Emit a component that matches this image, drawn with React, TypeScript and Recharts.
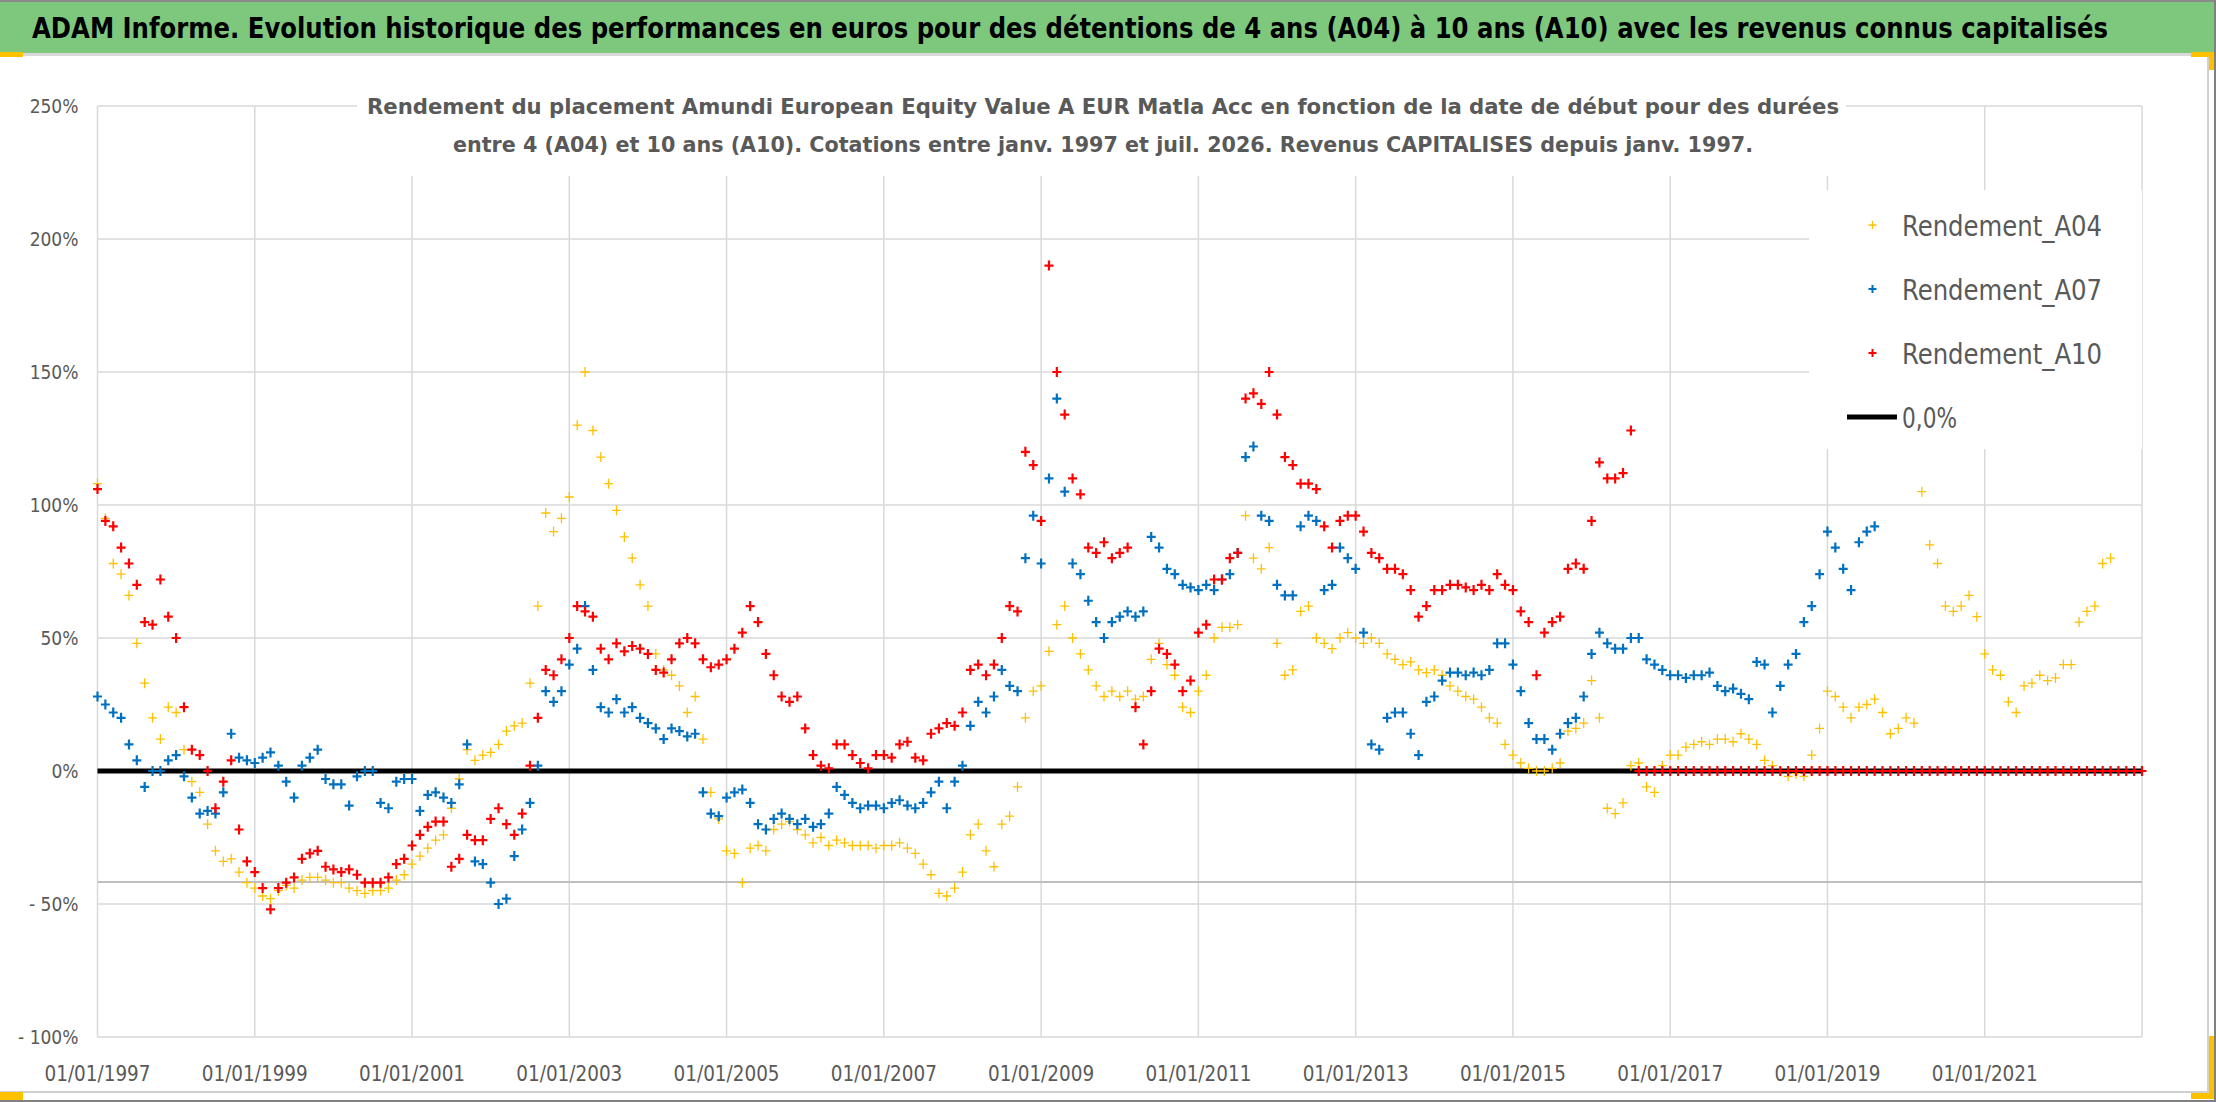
import React from 'react'
import {
  CartesianGrid,
  Legend,
  ReferenceLine,
  Scatter,
  ScatterChart,
  XAxis,
  YAxis,
} from 'recharts'

const TITLE =
  'ADAM Informe. Evolution historique des performances en euros pour des détentions de 4 ans (A04) à 10 ans (A10) avec les revenus connus capitalisés'
const SUBTITLE = [
  'Rendement du placement Amundi European Equity Value A EUR Matla Acc en fonction de la date de début pour des durées',
  'entre 4 (A04) et 10 ans (A10). Cotations entre janv. 1997 et juil. 2026. Revenus CAPITALISES depuis janv. 1997.',
]

const X_TICKS = [1997, 1999, 2001, 2003, 2005, 2007, 2009, 2011, 2013, 2015, 2017, 2019, 2021]
const Y_TICKS = [-100, -50, 0, 50, 100, 150, 200, 250]
// grey horizontal axis line drawn by the original a bit above -50 %
const AXIS_CROSS = -41.7

// one reading every 0.1 year, starting 01/01/1997
const FIRST_YEAR = 1997
const STEP = 0.1

// prettier-ignore
const A04 = [
  108, 95, 78, 74, 66, 48, 33, 20, 12, 24, // 1997
  22, 8, -4, -8, -20, -30, -34, -33, -38, -42, // 1998
  -44, -47, -48, -45, -43, -44, -41, -40, -40, -41, // 1999
  -42, -42, -44, -45, -46, -45, -45, -44, -41, -39, // 2000
  -35, -32, -29, -26, -24, -14, -3, 8, 4, 6, // 2001
  7, 10, 15, 17, 18, 33, 62, 97, 90, 95, // 2002
  103, 130, 150, 128, 118, 108, 98, 88, 80, 70, // 2003
  62, 44, 38, 36, 32, 22, 28, 12, -8, -18, // 2004
  -30, -31, -42, -29, -28, -30, -22, -20, -19, -22, // 2005
  -24, -27, -25, -28, -26, -27, -28, -28, -28, -29, // 2006
  -28, -28, -27, -29, -31, -35, -39, -46, -47, -44, // 2007
  -38, -24, -20, -30, -36, -20, -17, -6, 20, 30, // 2008
  32, 45, 55, 62, 50, 44, 38, 32, 28, 30, // 2009
  28, 30, 27, 28, 42, 48, 40, 36, 24, 22, // 2010
  30, 36, 50, 54, 54, 55, 96, 80, 76, 84, // 2011
  48, 36, 38, 60, 62, 50, 48, 46, 50, 52, // 2012
  50, 48, 50, 48, 44, 42, 40, 41, 38, 37, // 2013
  38, 36, 32, 30, 28, 27, 24, 20, 18, 10, // 2014
  6, 3, 1, 0, 0, 1, 3, 15, 16, 18, // 2015
  34, 20, -14, -16, -12, 2, 3, -6, -8, 2, // 2016
  6, 6, 9, 10, 11, 10, 12, 12, 11, 14, // 2017
  12, 10, 4, 2, 0, -2, -1, -2, 6, 16, // 2018
  30, 28, 24, 20, 24, 25, 27, 22, 14, 16, // 2019
  20, 18, 105, 85, 78, 62, 60, 62, 66, 58, // 2020
  44, 38, 36, 26, 22, 32, 33, 36, 34, 35, // 2021
  40, 40, 56, 60, 62, 78, 80, // 2022
]

// prettier-ignore
const A07 = [
  28, 25, 22, 20, 10, 4, -6, 0, 0, 4, // 1997
  6, -2, -10, -16, -15, -16, -8, 14, 5, 4, // 1998
  3, 5, 7, 2, -4, -10, 2, 5, 8, -3, // 1999
  -5, -5, -13, -2, 0, 0, -12, -14, -4, -3, // 2000
  -3, -15, -9, -8, -10, -12, -5, 10, -34, -35, // 2001
  -42, -50, -48, -32, -22, -12, 2, 30, 26, 30, // 2002
  40, 46, 62, 38, 24, 22, 27, 22, 24, 20, // 2003
  18, 16, 12, 16, 15, 13, 14, -8, -16, -17, // 2004
  -10, -8, -7, -12, -20, -22, -18, -16, -18, -20, // 2005
  -18, -21, -20, -16, -6, -9, -12, -14, -13, -13, // 2006
  -14, -12, -11, -13, -14, -12, -8, -4, -14, -4, // 2007
  2, 17, 26, 22, 28, 38, 32, 30, 80, 96, // 2008
  78, 110, 140, 105, 78, 74, 64, 56, 50, 56, // 2009
  58, 60, 58, 60, 88, 84, 76, 74, 70, 69, // 2010
  68, 70, 68, 72, 74, 82, 118, 122, 96, 94, // 2011
  70, 66, 66, 92, 96, 94, 68, 70, 84, 80, // 2012
  76, 52, 10, 8, 20, 22, 22, 14, 6, 26, // 2013
  28, 34, 37, 37, 36, 37, 36, 38, 48, 48, // 2014
  40, 30, 18, 12, 12, 8, 14, 18, 20, 28, // 2015
  44, 52, 48, 46, 46, 50, 50, 42, 40, 38, // 2016
  36, 36, 35, 36, 36, 37, 32, 30, 31, 29, // 2017
  27, 41, 40, 22, 32, 40, 44, 56, 62, 74, // 2018
  90, 84, 76, 68, 86, 90, 92, // 2019
]

// after mid-2016 there is no 10-year result yet: the sheet shows 0
// prettier-ignore
const A10 = [
  106, 94, 92, 84, 78, 70, 56, 55, 72, 58, // 1997
  50, 24, 8, 6, 0, -14, -4, 4, -22, -34, // 1998
  -38, -44, -52, -44, -42, -40, -33, -31, -30, -36, // 1999
  -37, -38, -37, -39, -42, -42, -42, -40, -35, -33, // 2000
  -28, -24, -21, -19, -19, -36, -33, -24, -26, -26, // 2001
  -18, -14, -20, -24, -16, 2, 20, 38, 36, 42, // 2002
  50, 62, 60, 58, 46, 42, 48, 45, 47, 46, // 2003
  44, 38, 37, 42, 48, 50, 48, 42, 39, 40, // 2004
  42, 46, 52, 62, 56, 44, 36, 28, 26, 28, // 2005
  16, 6, 2, 1, 10, 10, 6, 3, 1, 6, // 2006
  6, 5, 10, 11, 5, 4, 14, 16, 18, 17, // 2007
  22, 38, 40, 36, 40, 50, 62, 60, 120, 115, // 2008
  94, 190, 150, 134, 110, 104, 84, 82, 86, 80, // 2009
  82, 84, 24, 10, 30, 46, 44, 40, 30, 34, // 2010
  52, 55, 72, 72, 80, 82, 140, 142, 138, 150, // 2011
  134, 118, 115, 108, 108, 106, 92, 84, 94, 96, // 2012
  96, 90, 82, 80, 76, 76, 74, 68, 58, 62, // 2013
  68, 68, 70, 70, 69, 68, 70, 68, 74, 70, // 2014
  68, 60, 56, 36, 52, 56, 58, 76, 78, 76, // 2015
  94, 116, 110, 110, 112, 128, 0, 0, 0, 0, // 2016
  0, 0, 0, 0, 0, 0, 0, 0, 0, 0, // 2017
  0, 0, 0, 0, 0, 0, 0, 0, 0, 0, // 2018
  0, 0, 0, 0, 0, 0, 0, 0, 0, 0, // 2019
  0, 0, 0, 0, 0, 0, 0, 0, 0, 0, // 2020
  0, 0, 0, 0, 0, 0, 0, 0, 0, 0, // 2021
  0, 0, 0, 0, 0, 0, 0, 0, 0, 0, // 2022
  0, // 2023
]

const ZERO_DATES = [1997, 2023]
const ZERO_VALUES = [0, 0]

const YELLOW = '#FFC000'
const BLUE = '#0070C0'
const RED = '#FF0000'
const TEXT = '#595959'
const GRID = '#d9d9d9'
const FONT = "'DejaVu Sans Condensed', 'DejaVu Sans', sans-serif"

const toPoints = (values: number[]) =>
  values.map((y, i) => ({ x: Math.round((FIRST_YEAR + i * STEP) * 10) / 10, y }))

const a04Points = toPoints(A04)
const a07Points = toPoints(A07)
const a10Points = toPoints(A10)
const zeroPoints = ZERO_DATES.map((x, i) => ({ x, y: ZERO_VALUES[i] }))

const formatPct = (v: number) => (v < 0 ? `- ${-v}%` : `${v}%`)

const cross = (color: string, width: number) => (props: any) => {
  const { cx, cy } = props
  if (cx == null || cy == null) return <g />
  return (
    <path
      d={`M${cx - 4.5},${cy}H${cx + 4.5}M${cx},${cy - 5}V${cy + 5}`}
      stroke={color}
      strokeWidth={width}
      fill="none"
    />
  )
}

const XTick = (props: any) => {
  const { x, y, payload } = props
  return (
    <text
      x={x}
      y={y + 44}
      textAnchor="middle"
      fill={TEXT}
      fontSize={22}
      fontFamily={FONT}
      textLength={106}
      lengthAdjust="spacingAndGlyphs"
    >
      {`01/01/${payload.value}`}
    </text>
  )
}

const YTick = (props: any) => {
  const { x, y, payload } = props
  return (
    <text x={x - 19} y={y + 7} textAnchor="end" fill={TEXT} fontSize={19} fontFamily={FONT}>
      {formatPct(payload.value)}
    </text>
  )
}

const LEGEND_ROWS = [
  { name: 'Rendement_A04', color: YELLOW, width: 1.3 },
  { name: 'Rendement_A07', color: BLUE, width: 2 },
  { name: 'Rendement_A10', color: RED, width: 2 },
]

const LegendBox = () => (
  <svg width={333} height={259} style={{ display: 'block' }}>
    {LEGEND_ROWS.map((row, i) => {
      const cy = 35 + i * 64
      return (
        <g key={row.name}>
          <path
            d={`M59.5,${cy}H67.5M63.5,${cy - 4}V${cy + 4}`}
            stroke={row.color}
            strokeWidth={row.width}
          />
          <text
            x={93}
            y={cy + 11}
            fill={TEXT}
            fontSize={28}
            fontFamily={FONT}
            textLength={200}
            lengthAdjust="spacingAndGlyphs"
          >
            {row.name}
          </text>
        </g>
      )
    })}
    <line x1={38} x2={88} y1={227} y2={227} stroke="#000" strokeWidth={5} />
    <text
      x={93}
      y={238}
      fill={TEXT}
      fontSize={28}
      fontFamily={FONT}
      textLength={55}
      lengthAdjust="spacingAndGlyphs"
    >
      0,0%
    </text>
  </svg>
)

const box = (style: React.CSSProperties): React.CSSProperties => ({ position: 'absolute', ...style })

export default function App() {
  return (
    <div
      style={{
        position: 'absolute',
        left: 0,
        top: 0,
        width: 2216,
        height: 1102,
        background: '#fff',
        overflow: 'hidden',
      }}
    >
      <ScatterChart width={2216} height={1102} margin={{ top: 106, right: 74, bottom: 30, left: 0 }}>
        <CartesianGrid stroke={GRID} strokeWidth={1.5} />
        <XAxis
          type="number"
          dataKey="x"
          domain={[1997, 2023]}
          ticks={X_TICKS}
          interval={0}
          height={35}
          axisLine={false}
          tickLine={false}
          tickSize={0}
          tickMargin={0}
          tick={<XTick />}
        />
        <YAxis
          type="number"
          dataKey="y"
          domain={[-100, 250]}
          ticks={Y_TICKS}
          interval={0}
          width={97.5}
          axisLine={false}
          tickLine={false}
          tickSize={0}
          tickMargin={0}
          tick={<YTick />}
        />
        <ReferenceLine y={AXIS_CROSS} stroke="#bfbfbf" strokeWidth={2} />
        <Scatter
          name="0,0%"
          data={zeroPoints}
          line={{ stroke: '#000', strokeWidth: 5 }}
          shape={() => <g />}
          isAnimationActive={false}
        />
        <Scatter name="Rendement_A04" data={a04Points} shape={cross(YELLOW, 1.3)} isAnimationActive={false} />
        <Scatter name="Rendement_A07" data={a07Points} shape={cross(BLUE, 2.2)} isAnimationActive={false} />
        <Scatter name="Rendement_A10" data={a10Points} shape={cross(RED, 2.2)} isAnimationActive={false} />
        <Legend
          layout="horizontal"
          verticalAlign="middle"
          align="center"
          wrapperStyle={{ left: 1809, top: 190, width: 333, height: 259, background: '#fff' }}
          content={() => <LegendBox />}
        />
      </ScatterChart>

      {/* title band */}
      <div style={box({ left: 0, top: 0, width: 2216, height: 53, background: '#7ec87e' })}>
        <svg width={2216} height={53} style={{ display: 'block' }}>
          <text
            x={1070}
            y={38}
            textAnchor="middle"
            fontSize={28}
            fontWeight="bold"
            fontFamily={FONT}
            fill="#000"
            textLength={2076}
            lengthAdjust="spacingAndGlyphs"
          >
            {TITLE}
          </text>
        </svg>
      </div>
      <div style={box({ left: 0, top: 0, width: 2216, height: 2, background: '#8a8a8a' })} />
      <div style={box({ left: 0, top: 53, width: 2208, height: 3, background: GRID })} />

      {/* subtitle, white box over the grid */}
      <div style={box({ left: 357, top: 86, width: 1489, height: 90, background: '#fff' })}>
        <svg width={1489} height={90} style={{ display: 'block' }}>
          {SUBTITLE.map((line, i) => (
            <text
              key={i}
              x={746}
              y={28 + i * 38}
              textAnchor="middle"
              fontSize={22}
              fontWeight="bold"
              fontFamily={FONT}
              fill={TEXT}
              textLength={i === 0 ? 1472 : 1300}
              lengthAdjust="spacingAndGlyphs"
            >
              {line}
            </text>
          ))}
        </svg>
      </div>

      {/* chart frame and selection handles */}
      <div style={box({ left: 2207, top: 56, width: 2, height: 1036, background: '#d0d0d0' })} />
      <div style={box({ left: 0, top: 1091, width: 2209, height: 2, background: '#d0d0d0' })} />
      <div style={box({ left: 2214, top: 0, width: 2, height: 1102, background: '#808080' })} />
      <div style={box({ left: 0, top: 1100, width: 2216, height: 2, background: '#808080' })} />
      <div style={box({ left: 0, top: 52, width: 23, height: 5, background: YELLOW })} />
      <div style={box({ left: 2191, top: 52, width: 22, height: 5, background: YELLOW })} />
      <div style={box({ left: 2209, top: 52, width: 5, height: 18, background: YELLOW })} />
      <div style={box({ left: 2209, top: 1036, width: 5, height: 63, background: YELLOW })} />
      <div style={box({ left: 2191, top: 1093, width: 22, height: 6, background: YELLOW })} />
      <div style={box({ left: 0, top: 1092, width: 23, height: 8, background: YELLOW })} />
    </div>
  )
}
